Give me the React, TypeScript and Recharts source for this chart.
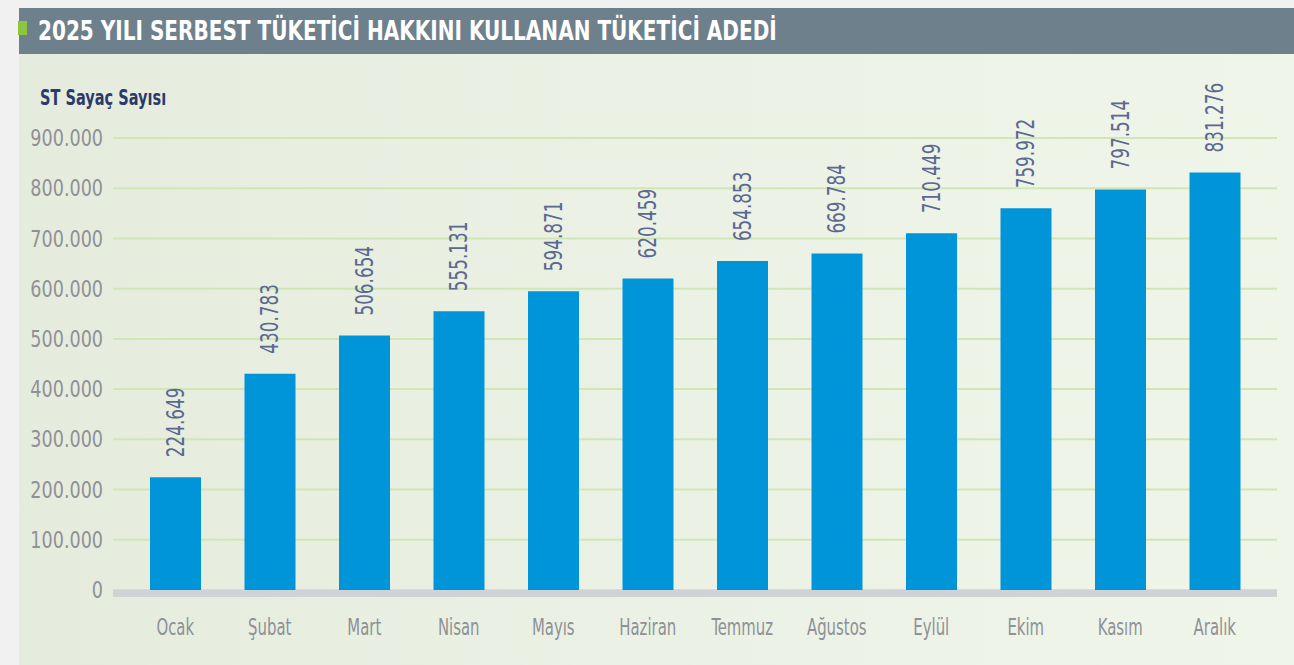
import { BarChart, Bar, XAxis, YAxis, CartesianGrid, LabelList } from 'recharts'

const months = ['Ocak', 'Şubat', 'Mart', 'Nisan', 'Mayıs', 'Haziran', 'Temmuz', 'Ağustos', 'Eylül', 'Ekim', 'Kasım', 'Aralık']
const meterCounts = [224649, 430783, 506654, 555131, 594871, 620459, 654853, 669784, 710449, 759972, 797514, 831276]
const yTicks = [0, 100000, 200000, 300000, 400000, 500000, 600000, 700000, 800000, 900000]

const data = months.map((month, i) => ({ month, value: meterCounts[i] }))

const FONT = '"DejaVu Sans Condensed", "DejaVu Sans", sans-serif'

// 1.234.567 style (Turkish thousands separator)
const fmt = (v: number) => v.toString().replace(/\B(?=(\d{3})+(?!\d))/g, '.')

// no condensed font installed, so squeeze the text horizontally
function RotatedLabel(props: any) {
  const { x, y, width, value } = props
  const cx = x + width / 2
  const ty = y - 20
  return (
    <text
      x={0}
      y={0}
      transform={`translate(${cx}, ${ty}) rotate(-90) scale(0.78, 1)`}
      textAnchor="start"
      dominantBaseline="central"
      fill="#5b6892"
      fontSize={24}
      fontFamily={FONT}
    >
      {fmt(value)}
    </text>
  )
}

function MonthTick(props: any) {
  const { x, y, payload } = props
  return (
    <text
      x={0}
      y={0}
      transform={`translate(${x}, ${y + 37}) scale(0.72, 1)`}
      textAnchor="middle"
      fill="#8e9196"
      fontSize={23}
      fontFamily={FONT}
    >
      {payload.value}
    </text>
  )
}

function ValueTick(props: any) {
  const { x, y, payload } = props
  return (
    <text
      x={0}
      y={0}
      transform={`translate(${x - 2}, ${y}) scale(0.85, 1)`}
      textAnchor="end"
      dominantBaseline="central"
      fill="#8e9196"
      fontSize={23}
      fontFamily={FONT}
    >
      {fmt(payload.value)}
    </text>
  )
}

export default function App() {
  return (
    <div style={{ position: 'absolute', left: 0, top: 0, width: 1294, height: 665, background: '#f1f1f1', overflow: 'hidden', fontFamily: FONT }}>
      <div
        style={{
          position: 'absolute',
          left: 19,
          top: 8,
          right: 0,
          bottom: 0,
          background: 'linear-gradient(90deg, #e5ecdd 0%, #ebf1e4 50%, #eff5e9 100%)',
        }}
      />
      <div style={{ position: 'absolute', left: 19, top: 8, right: 0, height: 46, background: '#6d808c' }} />
      <div style={{ position: 'absolute', left: 18, top: 21, width: 9, height: 14, background: '#8cc63f' }} />
      <div
        style={{
          position: 'absolute',
          left: 38,
          top: 8,
          height: 46,
          lineHeight: '46px',
          color: '#ffffff',
          fontWeight: 700,
          fontSize: 27,
          whiteSpace: 'nowrap',
          transform: 'scaleX(0.825)',
          transformOrigin: 'left center',
        }}
      >
        2025 YILI SERBEST TÜKETİCİ HAKKINI KULLANAN TÜKETİCİ ADEDİ
      </div>
      <div
        style={{
          position: 'absolute',
          left: 40,
          top: 86,
          color: '#2c3a6b',
          fontWeight: 700,
          fontSize: 21,
          whiteSpace: 'nowrap',
          transform: 'scaleX(0.77)',
          transformOrigin: 'left center',
        }}
      >
        ST Sayaç Sayısı
      </div>
      <div style={{ position: 'absolute', left: 0, top: 0 }}>
        <BarChart width={1294} height={665} data={data} margin={{ top: 138, right: 17, bottom: 35, left: 8 }} barSize={51}>
          <CartesianGrid vertical={false} stroke="#d2e6b5" strokeWidth={2} />
          <XAxis
            dataKey="month"
            padding={{ left: 15, right: 15 }}
            tickLine={false}
            axisLine={{ stroke: '#d1d2d6', strokeWidth: 7, transform: 'translate(0, 3.5)' }}
            tick={<MonthTick />}
            height={40}
            interval={0}
          />
          <YAxis
            width={105}
            domain={[0, 900000]}
            ticks={yTicks}
            tickLine={false}
            axisLine={false}
            tick={<ValueTick />}
          />
          <Bar dataKey="value" fill="#0095d9" isAnimationActive={false}>
            <LabelList dataKey="value" content={<RotatedLabel />} />
          </Bar>
        </BarChart>
      </div>
    </div>
  )
}
